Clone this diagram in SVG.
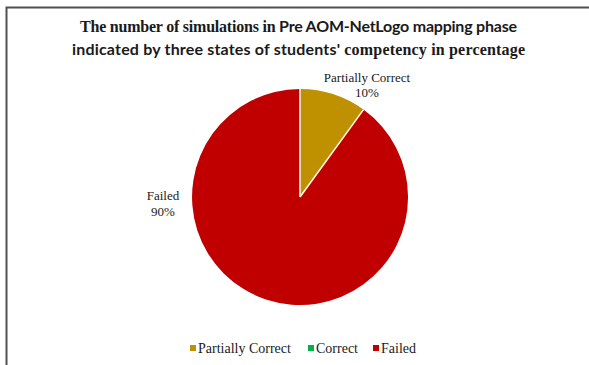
<svg xmlns="http://www.w3.org/2000/svg" width="589" height="365" viewBox="0 0 589 365">
<style>
.serif{font-family:"Liberation Serif","Times New Roman",serif;fill:#1a1a1a}
.sans{font-family:Lato,"Liberation Sans",sans-serif;fill:#1a1a1a}
.title{font-size:16px;font-weight:bold}
.lbl{font-size:13px}
.leg{font-size:14px}
.sep{stroke:#fdf6e8;stroke-width:1.6}
</style>
<rect width="589" height="365" fill="#ffffff"/>
<path d="M6.5 365 V7.5 H589" fill="none" stroke="#505050" stroke-width="2"/>
<g id="title">
<text x="80" y="32" class="title" textLength="437" lengthAdjust="spacing"><tspan class="serif">The number of simulations in </tspan><tspan class="sans">Pre AOM-NetLogo mapping phase</tspan></text>
<text x="72" y="55" class="title" textLength="453" lengthAdjust="spacing"><tspan class="sans">indicated by three states of students' </tspan><tspan class="serif">competency in percentage</tspan></text>
</g>
<g id="pie">
<g id="slice-failed"><path d="M300 197 L363.5 109.6 A108 108 0 1 1 300 89 Z" fill="#C00000"/></g>
<g id="slice-partially"><path d="M300 197 L300 89 A108 108 0 0 1 363.5 109.6 Z" fill="#BF9000"/></g>
<g id="connectors"><line x1="300" y1="197" x2="300" y2="89" class="sep"/><line x1="300" y1="197" x2="363.5" y2="109.6" class="sep"/></g>
</g>
<g id="label-partially">
<text x="367" y="82" text-anchor="middle" class="serif lbl">Partially Correct</text>
<text x="367" y="97" text-anchor="middle" class="serif lbl">10%</text>
</g>
<g id="label-failed">
<text x="163" y="200" text-anchor="middle" class="serif lbl">Failed</text>
<text x="163" y="216" text-anchor="middle" class="serif lbl">90%</text>
</g>
<g id="legend">
<rect x="190" y="345" width="6" height="6" fill="#BF9000"/>
<text x="198" y="353" class="serif leg">Partially Correct</text>
<rect x="308" y="345" width="6" height="6" fill="#00B050"/>
<text x="316" y="353" class="serif leg">Correct</text>
<rect x="373" y="345" width="6" height="6" fill="#C00000"/>
<text x="381" y="353" class="serif leg">Failed</text>
</g>
</svg>
